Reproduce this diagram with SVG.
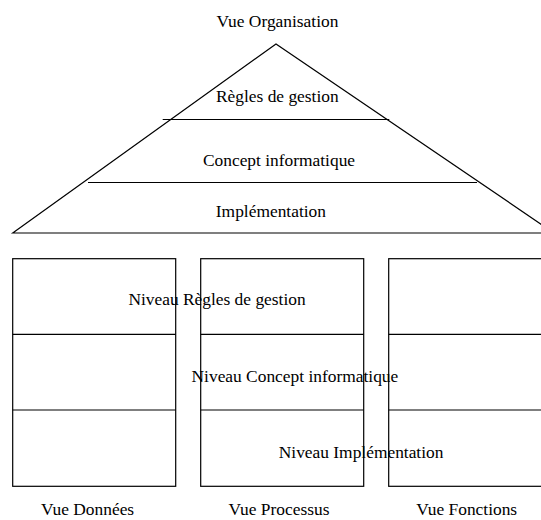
<svg xmlns="http://www.w3.org/2000/svg" width="541" height="520" viewBox="0 0 541 520">
<style>
.ln{fill:none;stroke:#000;stroke-width:1.2}
.t{font-family:"Liberation Serif","Times New Roman",serif;font-size:17.4px;fill:#000;text-anchor:middle}
</style>
<rect width="541" height="520" fill="#fff"/>
<g id="pyramide">
<polygon class="ln" points="12.7,233 276,44 554,233"/>
<line class="ln" x1="162.7" y1="119.5" x2="389.3" y2="119.5"/>
<line class="ln" x1="88" y1="182.5" x2="477" y2="182.5"/>
<text class="t" x="277.5" y="27">Vue Organisation</text>
<text class="t" x="277.3" y="102">Règles de gestion</text>
<text class="t" x="279" y="166">Concept informatique</text>
<text class="t" x="270.9" y="217">Implémentation</text>
</g>
<g id="vue-donnees">
<rect class="ln" x="12.7" y="258.7" width="163" height="227.6"/>
<line class="ln" x1="12.7" y1="334.3" x2="175.7" y2="334.3"/>
<line class="ln" x1="12.7" y1="410" x2="175.7" y2="410"/>
<text class="t" x="87.6" y="515">Vue Données</text>
</g>
<g id="vue-processus">
<rect class="ln" x="200.7" y="258.7" width="163" height="227.6"/>
<line class="ln" x1="200.7" y1="334.3" x2="363.7" y2="334.3"/>
<line class="ln" x1="200.7" y1="410" x2="363.7" y2="410"/>
<text class="t" x="279" y="515">Vue Processus</text>
</g>
<g id="vue-fonctions">
<rect class="ln" x="388.7" y="258.7" width="163" height="227.6"/>
<line class="ln" x1="388.7" y1="334.3" x2="551.7" y2="334.3"/>
<line class="ln" x1="388.7" y1="410" x2="551.7" y2="410"/>
<text class="t" x="466.7" y="515">Vue Fonctions</text>
</g>
<g id="niveaux">
<text class="t" x="217" y="305">Niveau Règles de gestion</text>
<text class="t" x="294.9" y="382">Niveau Concept informatique</text>
<text class="t" x="361.1" y="457.5">Niveau Implémentation</text>
</g>
<g id="connecteurs"/>
</svg>
